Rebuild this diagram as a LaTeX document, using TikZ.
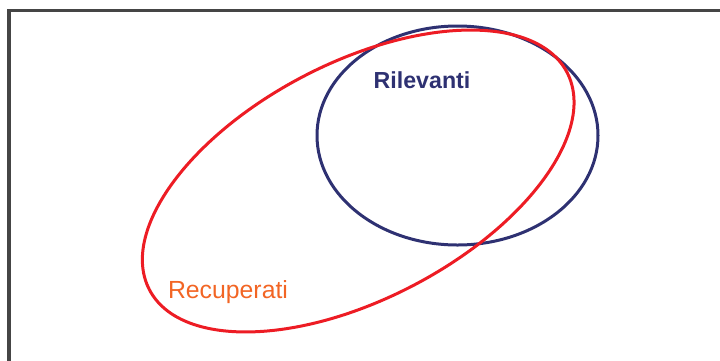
\documentclass[tikz,border=0pt]{standalone}
\usepackage{fontspec}
\setmainfont{Liberation Sans}
\definecolor{navy}{HTML}{2E3172}
\definecolor{redline}{HTML}{ED1C24}
\definecolor{orangetxt}{HTML}{F26524}
\definecolor{framegray}{HTML}{454545}
\begin{document}
\begin{tikzpicture}[x=1pt,y=-1pt,
  frame/.style={draw=framegray,line width=3.2pt},
  setline/.style={line width=3pt},
  lbl/.style={inner sep=0pt,anchor=base}]
\useasboundingbox (0,0) rectangle (720,360);
\clip (0,0) rectangle (720,360);
\draw[frame] (9,10.8) rectangle (740,380);
% Rilevanti set
\draw[setline,draw=navy] (457.5,135.5) ellipse [x radius=140.5, y radius=109.5];
% Recuperati set
\draw[setline,draw=redline] (358.2,181) ellipse [x radius=235.4, y radius=118.1, rotate=27.5];
\node[lbl,text=navy,font=\bfseries\fontsize{23.2}{27}\selectfont] (ril) at (422,88) {Rilevanti};
\node[lbl,text=orangetxt,font=\fontsize{24.8}{29}\selectfont] (rec) at (228,298.5) {Recuperati};
\end{tikzpicture}
\end{document}
